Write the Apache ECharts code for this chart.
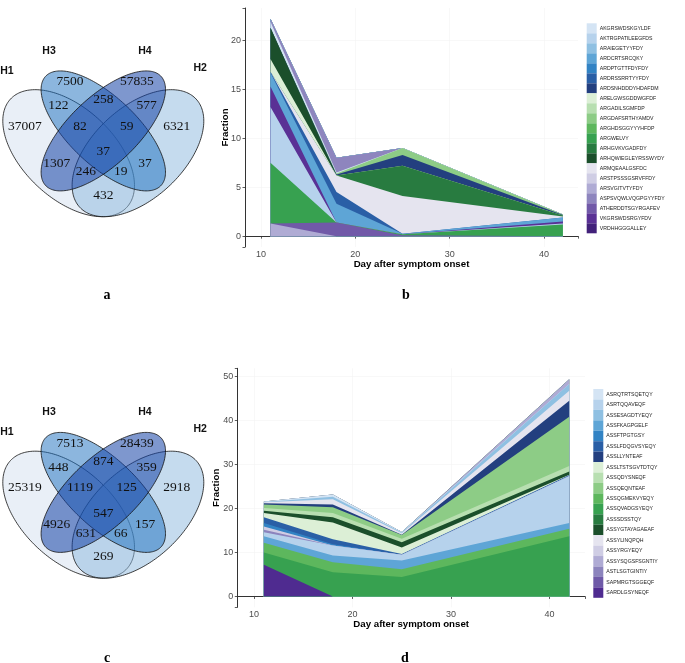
<!DOCTYPE html>
<html>
<head>
<meta charset="utf-8">
<script src="https://cdn.jsdelivr.net/npm/echarts@6/dist/echarts.min.js"></script>
<style>
  html, body { margin: 0; padding: 0; background: #fff; }
  #main { width: 685px; height: 663px; }
</style>
</head>
<body>
<div id="main"></div>
<script>
/* sampling days (x) shared by both area charts */
const days = [11, 18, 25, 42];

/* palettes, light -> dark */
const blues = ['#d4e4f4', '#b6d2ec', '#8fc0e2', '#5ea5d6', '#3283c4', '#2a5fa6', '#233f7f'];
const greens = ['#dcefd6', '#b8dfb1', '#8dcc86', '#5db75d', '#37a150', '#287b40', '#1b4f2b'];
const purplesB = ['#e5e4ef', '#cfcde4', '#afabd4', '#8e85be', '#7159a8', '#5a3195', '#42217a'];
const purplesD = ['#e5e4ef', '#cfcde4', '#afabd4', '#8c84bd', '#6f5aa8', '#4f2b90'];

/* panel b : legend order */
const cdrB = [
  'AKGRSWDSKGYLDF', 'AKTRGPATILEEGFDS', 'ARAIEGETYYFDY', 'ARDCRTSRCQKY', 'ARDPTGTTFDYFDY',
  'ARDRSSRRTYYFDY', 'ARDSNHDDDYHDAFDM', 'ARELGWSGDDWGFDF', 'ARGADILSGMFDP', 'ARGDAFSRTHYAMDV',
  'ARGHDSGGYYYHFDP', 'ARGWELVY', 'ARHGVKVGADFDY', 'ARHQWIEGLEYRSSWYDY', 'ARMQEAALGSFDC',
  'ARSTPSSSGSRVFFDY', 'ARSVGITVTYFDY', 'ASPSVQWLVQGPGYYFDY', 'ATHERDDTSGYRGAFEV', 'VKGRSWDSRGYFDV',
  'VRDHHGGGALLEY'
];
const colorsB = blues.concat(greens, purplesB);

/* panel b : stacking order (bottom -> top) and fractions at each day */
const stackB = [
  'ARSVGITVTYFDY', 'ATHERDDTSGYRGAFEV', 'ARGWELVY', 'AKTRGPATILEEGFDS', 'VKGRSWDSRGYFDV',
  'ARDCRTSRCQKY', 'ARDRSSRRTYYFDY', 'ARMQEAALGSFDC', 'ARHGVKVGADFDY', 'ARELGWSGDDWGFDF',
  'ARHQWIEGLEYRSSWYDY', 'ARDSNHDDDYHDAFDM', 'ARGDAFSRTHYAMDV', 'AKGRSWDSKGYLDF', 'ASPSVQWLVQGPGYYFDY',
  'ARAIEGETYYFDY', 'ARDPTGTTFDYFDY', 'ARGADILSGMFDP', 'ARGHDSGGYYYHFDP', 'ARSTPSSSGSRVFFDY',
  'VRDHHGGGALLEY'
];
const fracB = [
  [1.3, 0, 0, 0],
  [0, 1.4, 0.1, 0],
  [6.2, 0, 0.1, 1.2],
  [5.7, 0, 0, 0.1],
  [2.1, 0, 0, 0.2],
  [1.4, 1.9, 0.05, 0.4],
  [0.1, 1.2, 0, 0],
  [0, 1.7, 3.85, 0.1],
  [0, 0, 3.1, 0.1],
  [1.3, 0, 0, 0],
  [3.2, 0, 0, 0],
  [0, 0.1, 1.1, 0.05],
  [0, 0.1, 0.7, 0.05],
  [0.6, 0.1, 0, 0],
  [0.3, 1.5, 0, 0],
  [0, 0, 0, 0],
  [0, 0, 0, 0],
  [0, 0, 0, 0],
  [0, 0, 0, 0],
  [0, 0, 0, 0],
  [0, 0, 0, 0]
];

/* panel d : legend order */
const cdrD = [
  'ASRQTRTSQETQY', 'ASRTQQAVEQF', 'ASSESAGDTYEQY', 'ASSFKAGPGELF', 'ASSFTPGTGSY',
  'ASSLFDQGVSYEQY', 'ASSLLYNTEAF', 'ASSLTSTSGVTDTQY', 'ASSQDYSNEQF', 'ASSQEQNTEAF',
  'ASSQGMEKVYEQY', 'ASSQVADGSYEQY', 'ASSSDSSTQY', 'ASSYGTAYAGAEAF', 'ASSYLINQPQH',
  'ASSYRGYEQY', 'ASSYSQGSFSGNTIY', 'ASTLSGTGINTIY', 'SAPMRGTSGGEQF', 'SARDLGSYNEQF'
];
const colorsD = blues.concat(greens, purplesD);

/* panel d : stacking order (bottom -> top) and fractions at each day */
const stackD = [
  'SARDLGSYNEQF', 'ASSQVADGSYEQY', 'ASSQGMEKVYEQY', 'ASSFKAGPGELF', 'ASRTQQAVEQF',
  'ASTLSGTGINTIY', 'ASSYRGYEQY', 'ASSFTPGTGSY', 'ASSLFDQGVSYEQY', 'ASSLTSTSGVTDTQY',
  'ASSYGTAYAGAEAF', 'ASSQDYSNEQF', 'ASSQEQNTEAF', 'ASSLLYNTEAF', 'ASSYLINQPQH',
  'ASSESAGDTYEQY', 'ASRQTRTSQETQY', 'ASSYSQGSFSGNTIY', 'ASSSDSSTQY', 'SAPMRGTSGGEQF'
];
const fracD = [
  [7.2, 0, 0, 0],
  [2.8, 5.5, 4.4, 13.7],
  [2.2, 2.3, 1.8, 1.7],
  [1.5, 1.5, 2.0, 1.3],
  [0.9, 2.3, 1.3, 10.7],
  [0.6, 0, 0, 0],
  [0.7, 0, 0, 0],
  [0.8, 0.3, 0, 0],
  [1.3, 1.1, 0.15, 0.2],
  [1.0, 3.8, 1.5, 0.1],
  [0.5, 1.2, 1.2, 0.7],
  [0.6, 1.0, 0.8, 1.3],
  [0.8, 1.3, 0.8, 11.2],
  [0.3, 0.6, 0.1, 3.6],
  [0.2, 1.2, 0.3, 2.3],
  [0.1, 0.6, 0.2, 1.5],
  [0.1, 0.5, 0.1, 0],
  [0, 0, 0, 1.1],
  [0, 0, 0, 0],
  [0, 0, 0, 0]
];

/* venn diagrams: set names and region counts */
const vennSets = ['H1', 'H2', 'H3', 'H4'];
// order: H1, H2, H3, H4 only, then overlaps top -> bottom
const vennA = [37007, 6321, 7500, 57835, 122, 258, 577, 82, 59, 37, 1307, 246, 19, 37, 432];
const vennC = [25319, 2918, 7513, 28439, 448, 874, 359, 1119, 125, 547, 4926, 631, 66, 157, 269];

/* venn layout in unit square (VennDiagram style) */
const vennEllipses = [
  { cx: 0.35, cy: 0.47, a: 0.35, b: 0.20, rot: 135, fill: 'rgba(211,223,239,0.5)' },
  { cx: 0.65, cy: 0.47, a: 0.35, b: 0.20, rot: 45, fill: 'rgba(139,183,221,0.5)' },
  { cx: 0.50, cy: 0.57, a: 0.35, b: 0.15, rot: 135, fill: 'rgba(25,109,189,0.5)' },
  { cx: 0.50, cy: 0.57, a: 0.35, b: 0.15, rot: 45, fill: 'rgba(20,66,166,0.55)' }
];
const regionPos = [
  [0.161, 0.592], [0.818, 0.592], [0.356, 0.791], [0.645, 0.791],
  [0.305, 0.682], [0.5, 0.709], [0.688, 0.682], [0.399, 0.592], [0.601, 0.592],
  [0.5, 0.477], [0.298, 0.425], [0.425, 0.387], [0.575, 0.387], [0.681, 0.425], [0.5, 0.282]
];
const setPos = [[0.083, 0.839], [0.919, 0.852], [0.265, 0.929], [0.68, 0.929]];

const SX = 231, SY = 222.8;

function ellipsePoints(e, X0, Y0) {
  let pts = [];
  let r = e.rot * Math.PI / 180;
  for (let i = 0; i < 200; i++) {
    let t = i / 200 * 2 * Math.PI;
    let x = e.cx + e.a * Math.cos(t) * Math.cos(r) - e.b * Math.sin(t) * Math.sin(r);
    let y = e.cy + e.a * Math.cos(t) * Math.sin(r) + e.b * Math.sin(t) * Math.cos(r);
    pts.push([X0 + SX * (x - 0.5), Y0 - SY * (y - 0.5)]);
  }
  return pts;
}

function venn(counts, X0, Y0) {
  let els = [];
  vennEllipses.forEach(e => {
    els.push({
      type: 'polygon',
      shape: { points: ellipsePoints(e, X0, Y0) },
      style: { fill: e.fill, stroke: '#111', lineWidth: 0.8 },
      silent: true
    });
  });
  counts.forEach((c, i) => {
    els.push({
      type: 'text',
      x: X0 + SX * (regionPos[i][0] - 0.5),
      y: Y0 - SY * (regionPos[i][1] - 0.5),
      style: {
        text: String(c), fill: '#111', fontSize: 13.5, fontFamily: 'Liberation Serif',
        align: 'center', verticalAlign: 'middle'
      },
      silent: true
    });
  });
  vennSets.forEach((s, i) => {
    els.push({
      type: 'text',
      x: X0 + SX * (setPos[i][0] - 0.5),
      y: Y0 - SY * (setPos[i][1] - 0.5),
      style: {
        text: s, fill: '#111', fontSize: 10.5, fontWeight: 'bold', fontFamily: 'Liberation Sans',
        align: 'center', verticalAlign: 'middle'
      },
      silent: true
    });
  });
  return els;
}

function panelLetter(txt, x, y) {
  return {
    type: 'text', x: x, y: y, silent: true,
    style: {
      text: txt, fill: '#000', fontSize: 14, fontWeight: 'bold', fontFamily: 'Liberation Serif',
      align: 'center', verticalAlign: 'middle'
    }
  };
}

function tickFmt(step) {
  return v => (Math.abs(v / step - Math.round(v / step)) < 1e-6 ? String(Math.round(v)) : '');
}

function xAxis(gridIndex) {
  return {
    type: 'value', gridIndex: gridIndex, min: 8.3, max: 43.6,
    name: 'Day after symptom onset', nameLocation: 'middle', nameGap: 12, nameMoveOverlap: false,
    nameTextStyle: { fontSize: 9.7, fontWeight: 'bold', color: '#000', fontFamily: 'Liberation Sans' },
    axisLine: { show: true, lineStyle: { color: '#333', width: 1 } },
    axisTick: { show: true, length: 2.5, lineStyle: { color: '#333', width: 0.8 } },
    axisLabel: { color: '#4d4d4d', fontSize: 9, margin: 3, fontFamily: 'Liberation Sans', formatter: tickFmt(10) },
    splitLine: { show: true, showMinLine: false, showMaxLine: false, lineStyle: { color: '#f3f3f3', width: 0.6 } }
  };
}

function yAxis(gridIndex, min, max, step, gap) {
  return {
    type: 'value', gridIndex: gridIndex, min: min, max: max,
    name: 'Fraction', nameLocation: 'middle', nameGap: gap, nameMoveOverlap: false,
    nameTextStyle: { fontSize: 9.7, fontWeight: 'bold', color: '#000', fontFamily: 'Liberation Sans' },
    axisLine: { show: true, lineStyle: { color: '#333', width: 1 } },
    axisTick: { show: true, length: 2.5, lineStyle: { color: '#333', width: 0.8 } },
    axisLabel: { color: '#4d4d4d', fontSize: 9, margin: 4, fontFamily: 'Liberation Sans', formatter: tickFmt(step) },
    splitLine: { show: true, showMinLine: false, showMaxLine: false, lineStyle: { color: '#f3f3f3', width: 0.6 } }
  };
}

/* stacked areas: cumulative tops drawn from the top layer down, each filled to 0,
   so every lower layer covers the part of the one above it */
function areaSeries(names, values, legendNames, colors, idx) {
  let cum = [];
  let run = days.map(() => 0);
  values.forEach((v, k) => {
    run = run.map((s, i) => s + v[i]);
    cum.push(run.slice());
  });
  let out = [];
  for (let k = names.length - 1; k >= 0; k--) {
    let c = colors[legendNames.indexOf(names[k])];
    out.push({
      type: 'line', name: names[k], xAxisIndex: idx, yAxisIndex: idx,
      data: days.map((d, i) => [d, cum[k][i]]),
      symbol: 'none', silent: true,
      lineStyle: { width: 0, color: c },
      itemStyle: { color: c },
      areaStyle: { color: c, opacity: 1, origin: 0 }
    });
  }
  return out;
}

function legend(names, pos, h) {
  return {
    data: names, orient: 'vertical', left: pos[0], top: pos[1], padding: 0,
    itemWidth: 10, itemHeight: h, itemGap: 0, icon: 'rect', selectedMode: false,
    textStyle: { fontSize: 5.2, color: '#222', fontFamily: 'Liberation Sans', padding: [0, 0, 0, -2] }
  };
}

let chart = echarts.init(document.getElementById('main'), null, { renderer: 'canvas' });

let option = {
  animation: false,
  backgroundColor: '#fff',
  grid: [
    { left: 245, top: 8, width: 333, height: 239 },
    { left: 237.3, top: 368.3, width: 347.7, height: 239 }
  ],
  xAxis: [xAxis(0), xAxis(1)],
  yAxis: [yAxis(0, -1.11, 23.31, 5, 15), yAxis(1, -2.47, 51.9, 10, 16)],
  legend: [legend(cdrB, [586.7, 23.3], 10), legend(cdrD, [593.3, 389], 10.44)],
  series: areaSeries(stackB, fracB, cdrB, colorsB, 0).concat(areaSeries(stackD, fracD, cdrD, colorsD, 1)),
  graphic: venn(vennA, 103.3, 146.5).concat(
    venn(vennC, 103.3, 508),
    [panelLetter('a', 107, 295), panelLetter('b', 406, 295), panelLetter('c', 107, 658), panelLetter('d', 405, 658)]
  )
};

chart.setOption(option);
</script>
</body>
</html>
